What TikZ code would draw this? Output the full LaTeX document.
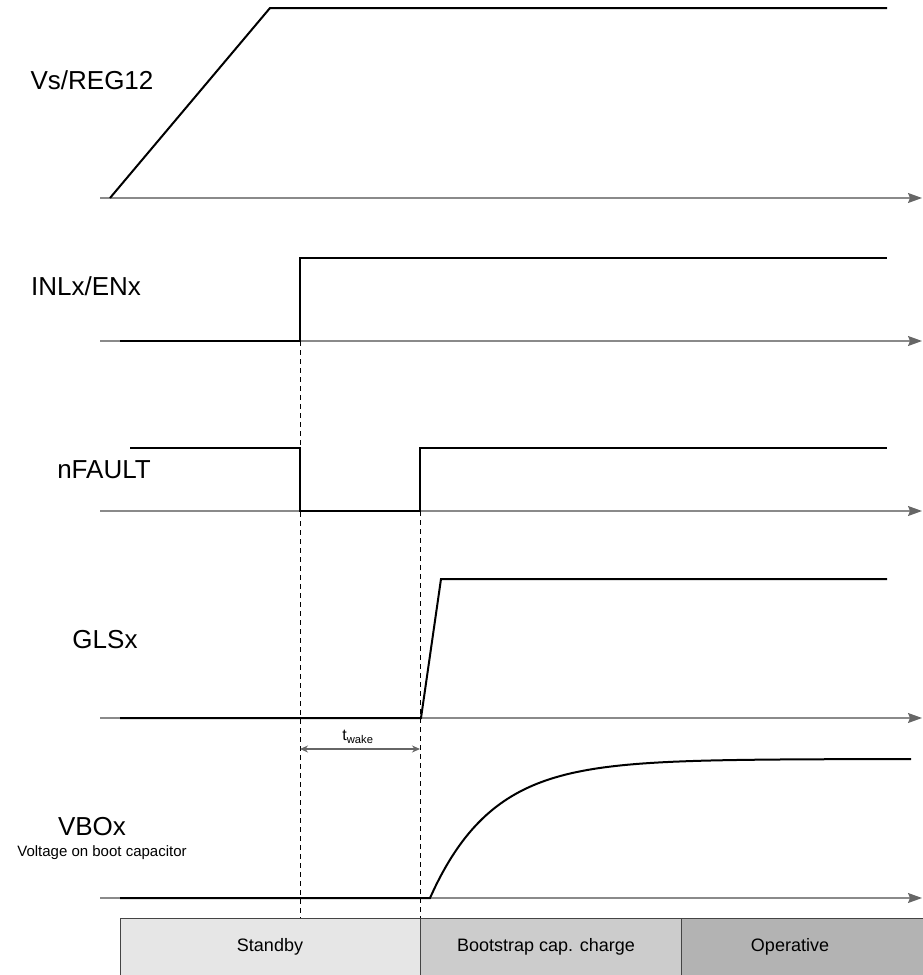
\documentclass[tikz,border=0pt]{standalone}
\usepackage{fontspec}
\setmainfont{Liberation Sans}
\usetikzlibrary{arrows.meta}
\definecolor{axisgray}{HTML}{8A8A8A}
\definecolor{tipgray}{HTML}{666666}
\definecolor{phaseA}{HTML}{E6E6E6}
\definecolor{phaseB}{HTML}{CCCCCC}
\definecolor{phaseC}{HTML}{B3B3B3}
\definecolor{boxline}{HTML}{444444}
\begin{document}
\begin{tikzpicture}[x=1pt,y=-1pt,
  axis/.style={draw=axisgray, line width=1.3pt, -{Stealth[length=14pt,width=10pt,inset=2pt,color=tipgray]}},
  sig/.style={draw=black, line width=2pt, line join=miter},
  guide/.style={draw=black, line width=0.9pt, dash pattern=on 5pt off 4pt},
  siglabel/.style={font=\fontsize{26}{30}\selectfont, anchor=center, inner sep=0pt},
  phase/.style={draw=boxline, line width=1pt},
  phaselabel/.style={font=\fontsize{18}{21}\selectfont, anchor=center, inner sep=0pt}]
\useasboundingbox (0,0) rectangle (922,975);

% phase boxes
\fill[phaseA] (120,918) rectangle (420,980);
\fill[phaseB] (420,918) rectangle (681,980);
\fill[phaseC] (681,918) rectangle (925,980);
\draw[phase] (120,980) -- (120,918) -- (925,918);
\draw[phase] (420,918) -- (420,980);
\draw[phase] (681,918) -- (681,980);
\node[phaselabel] (standby) at (270,947) {Standby};
\node[phaselabel] (boot) at (546,947) {Bootstrap cap. charge};
\node[phaselabel] (oper) at (790,947) {Operative};

% guides
\draw[guide] (300,341) -- (300,918);
\draw[guide] (420,448) -- (420,918);

% axes
\draw[axis] (100,198) -- (922,198);
\draw[axis] (100,341) -- (922,341);
\draw[axis] (100,511) -- (922,511);
\draw[axis] (100,718) -- (922,718);
\draw[axis] (100,898) -- (922,898);

% signals
\draw[sig] (110,198) -- (270,8) -- (887,8);
\draw[sig] (120,341) -- (300,341) -- (300,258) -- (887,258);
\draw[sig] (130,448) -- (300,448) -- (300,511) -- (420,511) -- (420,448) -- (887,448);
\draw[sig] (120,718) -- (421,718) -- (441,579) -- (887,579);
\draw[sig] (120,898) -- (430,898) -- plot[domain=430:911, samples=90, smooth] (\x,{898-139*(1-exp(-(\x-430)/62))});

% t_wake
\draw[draw=tipgray, line width=1.3pt, {Stealth[length=8pt,width=7pt]}-{Stealth[length=8pt,width=7pt]}] (300,749) -- (420,749);
\node[font=\fontsize{16}{19}\selectfont, inner sep=0pt] (twake) at (358,737) {t\textsubscript{wake}};

% labels
\node[siglabel] (vs) at (92,80) {Vs/REG12};
\node[siglabel] (inl) at (86,286) {INLx/ENx};
\node[siglabel] (nf) at (104,470) {nFAULT};
\node[siglabel] (gls) at (105,640) {GLSx};
\node[siglabel] (vbo) at (92,827) {VBOx};
\node[font=\fontsize{15}{18}\selectfont, inner sep=0pt] (vbosub) at (102,853) {Voltage on boot capacitor};
\end{tikzpicture}
\end{document}
